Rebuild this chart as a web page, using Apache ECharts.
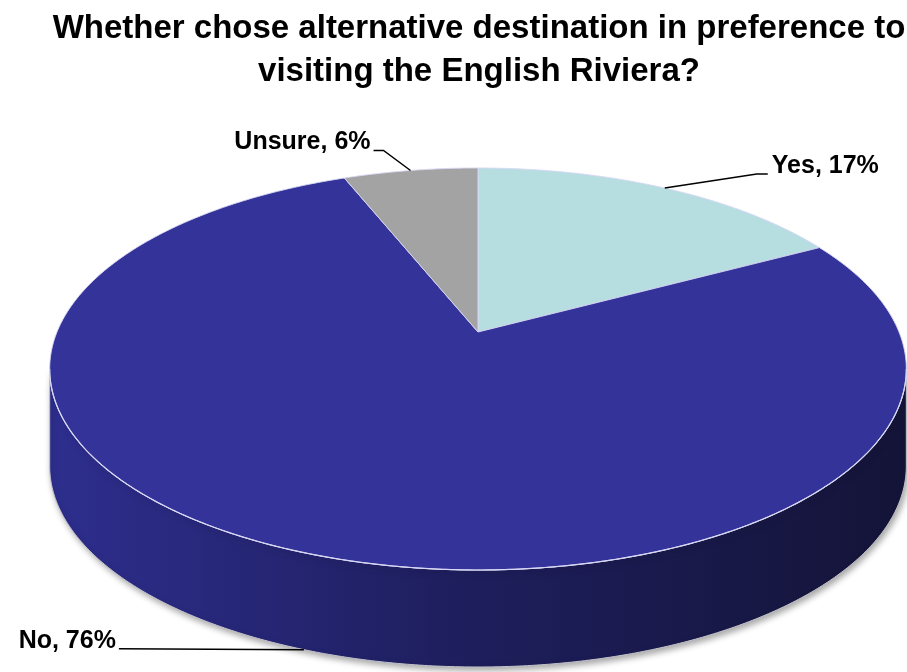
<!DOCTYPE html>
<html>
<head>
<meta charset="utf-8">
<script src="https://cdn.jsdelivr.net/npm/echarts@6/dist/echarts.min.js"></script>
<style>
html,body{margin:0;padding:0;background:#fff;}
#chart{width:907px;height:672px;}
</style>
</head>
<body>
<div id="chart"></div>
<script>
// ---- data ----
const categories = ['Yes', 'No', 'Unsure'];
const values = [17, 76, 6];
const titleText = 'Whether chose alternative destination in preference to\nvisiting the English Riviera?';

// ---- style / layout ----
const topColors = ['#b6dde0', '#333399', '#a3a3a3'];
const FONT = '"Liberation Sans", Arial, sans-serif';
const CX = 478, CY = 332;     // projected centre of the top face
const KX = 421, KY = 194.2;   // radii before perspective
const G = 0.184;              // perspective factor
const DEPTH = 97;             // thickness of the pie
const thetaR = Math.acos(-G);
const thetaL = 2 * Math.PI - Math.acos(-G);

function proj(t, dy) {
  const u = Math.sin(t), v = Math.cos(t), d = 1 + G * v;
  return [CX + KX * u / d, CY - KY * v / d + (dy || 0)];
}
function arc(a0, a1, dy) {
  const pts = [];
  const n = Math.max(2, Math.ceil((a1 - a0) / (Math.PI / 360)));
  for (let s = 0; s <= n; s++) pts.push(proj(a0 + (a1 - a0) * s / n, dy));
  return pts;
}

// label leader layouts (relative to the slice's edge anchor)
const labelLayout = [
  { bend: [92, -14], end: [103, -14], align: 'left' },
  { bend: [-185, -1], end: [-185, -1], align: 'right' },
  { bend: [-27, -20], end: [-37, -20], align: 'right' }
];

const chart = echarts.init(document.getElementById('chart'));

function renderItem(params, api) {
  const i = params.dataIndex;
  const total = values.reduce((a, b) => a + b, 0);
  let before = 0;
  for (let j = 0; j < i; j++) before += values[j];
  const val = api.value(0);
  const a0 = before / total * 2 * Math.PI;
  const a1 = (before + val) / total * 2 * Math.PI;
  const children = [];

  // side wall (only the front, visible part)
  const s0 = Math.max(a0, thetaR), s1 = Math.min(a1, thetaL);
  if (s0 < s1) {
    const topArc = arc(s0, s1, 0);
    const botArc = arc(s0, s1, DEPTH).reverse();
    children.push({
      type: 'polygon', z2: 1,
      shape: { points: topArc.concat(botArc) },
      style: {
        fill: new echarts.graphic.LinearGradient(0, 0, 1, 0, [
          { offset: 0, color: '#2e2e8e' },
          { offset: 0.45, color: '#1f1f60' },
          { offset: 1, color: '#141438' }
        ]),
        stroke: '#c4c4cc', lineWidth: 1,
        shadowBlur: 6, shadowColor: 'rgba(0,0,0,0.35)', shadowOffsetX: 2, shadowOffsetY: 3
      }
    });
    children.push({
      type: 'polyline', z2: 6,
      shape: { points: topArc },
      style: { stroke: '#d8d8f4', lineWidth: 1.2, fill: null }
    });
  }

  // top face
  const top = [[CX, CY]].concat(arc(a0, a1, 0));
  children.push({
    type: 'polygon', z2: 5,
    shape: { points: top },
    style: { fill: topColors[i], stroke: 'rgba(215,215,245,0.9)', lineWidth: 1 }
  });

  // label + leader line
  const mid = (a0 + a1) / 2;
  const front = Math.cos(mid) < -G;
  const A = proj(mid, front ? DEPTH : 0);
  const L = labelLayout[i];
  const p1 = [A[0] + L.bend[0], A[1] + L.bend[1]];
  const p2 = [A[0] + L.end[0], A[1] + L.end[1]];
  children.push({
    type: 'polyline', z2: 10,
    shape: { points: [A, p1, p2] },
    style: { stroke: '#000', lineWidth: 1.5, fill: null }
  });
  const tx = p2[0] + (L.align === 'left' ? 4 : -3);
  children.push({
    type: 'text', z2: 10,
    x: tx, y: p2[1] - 8,
    style: {
      text: categories[i] + ', ' + val + '%',
      font: 'bold 25px ' + FONT,
      fill: '#000',
      align: L.align, verticalAlign: 'middle'
    }
  });
  return { type: 'group', children: children };
}

chart.setOption({
  backgroundColor: '#fff',
  animation: false,
  title: {
    text: titleText,
    left: 474, top: 2, textAlign: 'center',
    textStyle: { fontFamily: FONT, fontWeight: 'bold', fontSize: 33, lineHeight: 43, color: '#000' }
  },
  series: [{
    type: 'custom',
    coordinateSystem: 'none',
    renderItem: renderItem,
    data: values.map((v, i) => ({ name: categories[i], value: [v] }))
  }]
});
</script>
</body>
</html>
